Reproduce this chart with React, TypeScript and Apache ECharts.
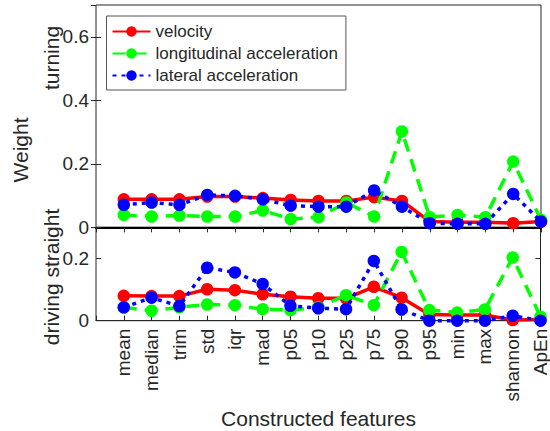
import React, { useEffect, useRef } from "react";
import * as echarts from "echarts";

const categories = ["mean", "median", "trim", "std", "iqr", "mad", "p05", "p10", "p25", "p75", "p90", "p95", "min", "max", "shannon", "ApEn"];
const seriesNames = ["velocity", "longitudinal acceleration", "lateral acceleration"];

const turningVelocity = [0.088, 0.088, 0.088, 0.097, 0.097, 0.092, 0.086, 0.083, 0.083, 0.095, 0.083, 0.018, 0.016, 0.016, 0.013, 0.018];
const turningLongitudinal = [0.039, 0.034, 0.037, 0.034, 0.034, 0.053, 0.026, 0.032, 0.078, 0.034, 0.302, 0.032, 0.039, 0.032, 0.207, 0.023];
const turningLateral = [0.071, 0.078, 0.071, 0.102, 0.099, 0.088, 0.068, 0.065, 0.065, 0.116, 0.065, 0.013, 0.011, 0.011, 0.105, 0.018];

const straightVelocity = [0.080, 0.079, 0.079, 0.101, 0.098, 0.085, 0.077, 0.072, 0.072, 0.109, 0.074, 0.020, 0.018, 0.018, 0.002, 0.004];
const straightLongitudinal = [0.043, 0.032, 0.043, 0.052, 0.050, 0.037, 0.034, 0.043, 0.082, 0.050, 0.221, 0.034, 0.026, 0.036, 0.203, 0.013];
const straightLateral = [0.043, 0.074, 0.047, 0.170, 0.155, 0.118, 0.048, 0.040, 0.037, 0.192, 0.036, 0.000, 0.000, 0.000, 0.016, 0.000];

const yTicksTop = [0, 0.2, 0.4, 0.6];
const yTicksBottom = [0, 0.2];

const FONT = "'Liberation Sans', Arial, Helvetica, sans-serif";
const TXT = "#262626";

export default function App() {
  const ref = useRef<HTMLDivElement>(null);
  useEffect(() => {
    if (!ref.current) return;
    const chart = echarts.init(ref.current, undefined, { renderer: "svg" });
    const L = 96, R = 541, T = 5, Z = 227.3, B = 320.7;
    const W = R - L;
    const colors = ["#ff0000", "#00ff00", "#0000ff"];
    const dashes: any[] = ["solid", [13, 8], [4, 5]];
    const pts = (arr: number[]) => arr.map((v, i) => [i + 1, v]);
    const mkSeries = (arr: number[], idx: number, axis: number) => ({
      type: "line",
      name: seriesNames[idx],
      xAxisIndex: axis === 0 ? 0 : 2,
      yAxisIndex: axis === 0 ? 0 : 2,
      data: pts(arr),
      symbol: "circle",
      symbolSize: 12.5,
      showSymbol: true,
      color: colors[idx],
      lineStyle: { color: colors[idx], width: 3.5, type: dashes[idx], cap: "butt" },
      itemStyle: { color: colors[idx] },
      clip: false,
      z: 3 + idx,
    });
    const tickLabel = { fontFamily: FONT, fontSize: 19, color: TXT };
    chart.setOption({
      animation: false,
      backgroundColor: "#ffffff",
      grid: [
        { left: L, top: T, width: W, height: Z - T, show: true, borderColor: TXT, borderWidth: 1, backgroundColor: "transparent" },
        { left: L, top: Z, width: W, height: B - Z, show: true, borderColor: TXT, borderWidth: 1, backgroundColor: "transparent" },
      ],
      xAxis: [
        {
          type: "value", gridIndex: 0, position: "bottom", min: 0, max: 16, interval: 1,
          axisLine: { show: true, onZero: false, lineStyle: { color: "#000", width: 2 } },
          axisTick: { show: false }, axisLabel: { show: false }, splitLine: { show: false },
        },
        {
          type: "value", gridIndex: 0, position: "top", min: 0, max: 16, interval: 1,
          axisLine: { show: false }, axisTick: { show: true, inside: true, length: 5, lineStyle: { color: TXT } },
          axisLabel: { show: false }, splitLine: { show: false },
        },
        {
          type: "value", gridIndex: 1, position: "bottom", min: 0, max: 16, interval: 1,
          axisLine: { show: true, onZero: false, lineStyle: { color: TXT, width: 1 } },
          axisTick: { show: true, inside: true, length: 5, lineStyle: { color: TXT } },
          axisLabel: {
            ...tickLabel, rotate: 90, margin: 8,
            formatter: (v: number) => (v >= 1 && v <= 16 ? categories[Math.round(v) - 1] : ""),
          },
          splitLine: { show: false },
        },
      ],
      yAxis: [
        {
          type: "value", gridIndex: 0, position: "left", min: 0, max: 0.7, interval: 0.2,
          axisLine: { show: false }, axisTick: { show: true, inside: true, length: 5, lineStyle: { color: TXT } },
          axisLabel: { ...tickLabel, margin: 7, showMaxLabel: false, formatter: (v: number) => (yTicksTop.some((t) => Math.abs(t - v) < 1e-6) ? String(Math.round(v * 10) / 10) : "") },
          splitLine: { show: false },
        },
        {
          type: "value", gridIndex: 0, position: "right", min: 0, max: 0.7, interval: 0.2,
          axisLine: { show: false }, axisTick: { show: true, inside: true, length: 5, lineStyle: { color: TXT } },
          axisLabel: { show: false }, splitLine: { show: false },
        },
        {
          type: "value", gridIndex: 1, position: "left", min: 0, max: 0.3, interval: 0.2,
          axisLine: { show: false }, axisTick: { show: true, inside: true, length: 5, lineStyle: { color: TXT } },
          axisLabel: { ...tickLabel, margin: 7, showMaxLabel: false, formatter: (v: number) => (yTicksBottom.some((t) => Math.abs(t - v) < 1e-6) ? String(Math.round(v * 10) / 10) : "") },
          splitLine: { show: false },
        },
        {
          type: "value", gridIndex: 1, position: "right", min: 0, max: 0.3, interval: 0.2,
          axisLine: { show: false }, axisTick: { show: true, inside: true, length: 5, lineStyle: { color: TXT } },
          axisLabel: { show: false }, splitLine: { show: false },
        },
      ],
      legend: {
        data: seriesNames,
        orient: "vertical",
        left: 106.5,
        top: 16,
        padding: [5, 8, 4, 5],
        itemWidth: 38,
        itemHeight: 13,
        itemGap: 1,
        backgroundColor: "#ffffff",
        borderColor: "#555555",
        borderWidth: 1,
        textStyle: { fontFamily: FONT, fontSize: 17, color: TXT, lineHeight: 21 },
      },
      graphic: [
        { type: "text", x: 20, y: 150, rotation: Math.PI / 2, style: { text: "Weight", font: `21px ${FONT}`, fill: TXT, textAlign: "center", textVerticalAlign: "middle" } },
        { type: "text", x: 51, y: 58, rotation: Math.PI / 2, style: { text: "turning", font: `21px ${FONT}`, fill: TXT, textAlign: "center", textVerticalAlign: "middle" } },
        { type: "text", x: 51, y: 277, rotation: Math.PI / 2, style: { text: "driving straight", font: `21px ${FONT}`, fill: TXT, textAlign: "center", textVerticalAlign: "middle" } },
        { type: "text", x: (L + R) / 2, y: 418, style: { text: "Constructed features", font: `21px ${FONT}`, fill: TXT, textAlign: "center", textVerticalAlign: "middle" } },
      ],
      series: [
        mkSeries(turningVelocity, 0, 0),
        mkSeries(turningLongitudinal, 1, 0),
        mkSeries(turningLateral, 2, 0),
        mkSeries(straightVelocity, 0, 1),
        mkSeries(straightLongitudinal, 1, 1),
        mkSeries(straightLateral, 2, 1),
      ],
    });
    return () => chart.dispose();
  }, []);
  return <div ref={ref} style={{ width: 550, height: 431, position: "absolute", left: 0, top: 0 }} />;
}
